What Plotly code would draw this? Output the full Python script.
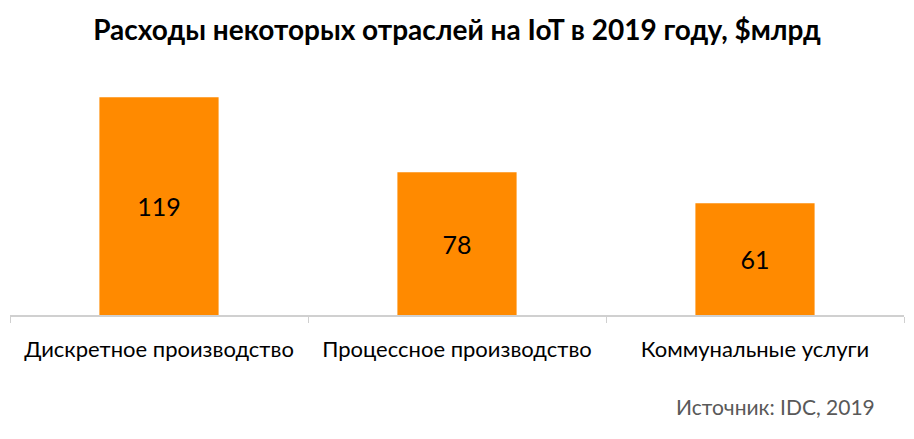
import plotly.graph_objects as go

# Данные
categories = ["Дискретное производство", "Процессное производство", "Коммунальные услуги"]
values = [119, 78, 61]
title_text = "Расходы некоторых отраслей на IoT в 2019 году, $млрд"
source_text = "Источник: IDC, 2019"

fig = go.Figure(go.Bar(
    x=categories,
    y=values,
    text=values,
    textposition="inside",
    insidetextanchor="middle",
    textfont=dict(family="Lato", size=25, color="black"),
    marker=dict(color="#FF8A00", line=dict(width=0)),
    width=0.4,
    hoverinfo="skip",
))

fig.update_layout(
    width=914, height=439,
    paper_bgcolor="white", plot_bgcolor="white",
    margin=dict(l=10, r=10, t=77, b=124),
    title=dict(text=f"<b>{title_text}</b>", x=0.5, xanchor="center",
               y=0.931, yanchor="middle",
               font=dict(family="Lato", size=28, color="black")),
    xaxis=dict(showline=True, linecolor="#d0d0d0", linewidth=1.5,
               ticks="outside", tickson="boundaries", ticklen=6, tickcolor="#d0d0d0",
               ticklabelstandoff=14, automargin=False,
               tickfont=dict(family="Lato", size=22, color="black")),
    yaxis=dict(visible=False, range=[0, 130], automargin=False),
    showlegend=False,
    annotations=[dict(text=source_text, x=1, xref="paper", xanchor="right",
                      y=0, yref="paper", yanchor="middle",
                      showarrow=False,
                      font=dict(family="Lato", size=21, color="#595959"))],
)
fig.layout.annotations[0].y = (439 - 124 - 406) / (439 - 77 - 124)
fig.layout.annotations[0].x = (877 - 10) / (914 - 20)

# убрать отступ страницы, чтобы рисунок начинался в (0, 0)
fig.write_html("out.html", config={"displayModeBar": False},
               post_script="document.body.style.margin='0';")
